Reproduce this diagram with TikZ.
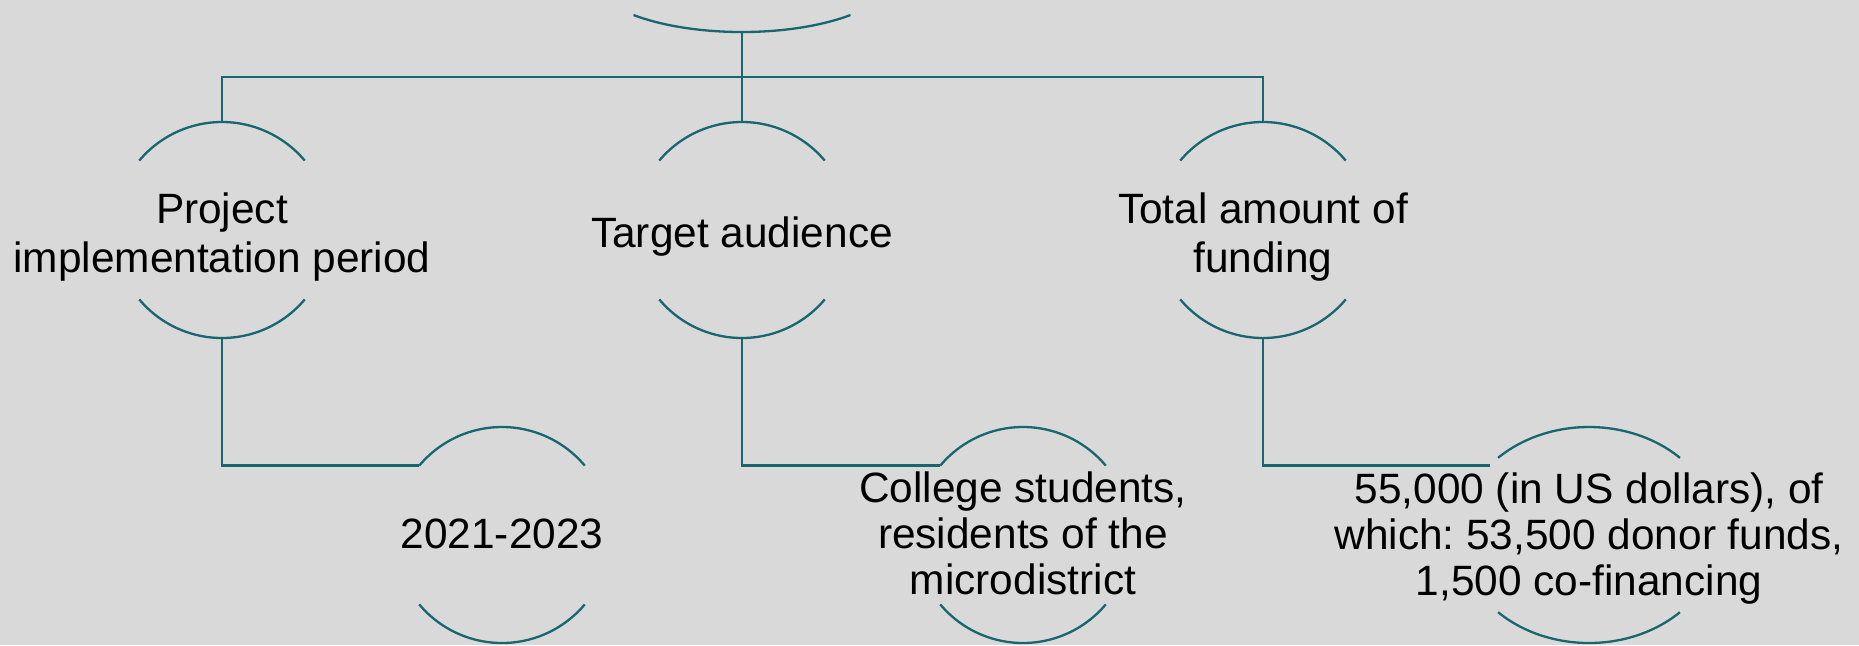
\documentclass[tikz,border=0pt]{standalone}
\usepackage{fontspec}
\setmainfont{Liberation Sans}
\usetikzlibrary{shapes.geometric}
\frenchspacing
\definecolor{bg}{HTML}{D9D9D9}
\definecolor{teal}{HTML}{176670}
\tikzset{
  ln/.style={draw=teal, line width=1.15pt},
  ring/.style={circle, draw=none, inner sep=0pt, outer sep=0pt, minimum size=108pt},
  oval/.style={ellipse, draw=none, inner sep=0pt, outer sep=0pt},
  lbl/.style={align=center, inner sep=0pt, text=black, font=\fontsize{21.2pt}{24.65pt}\selectfont},
  lblt/.style={align=center, inner sep=0pt, text=black, font=\fontsize{21.2pt}{23pt}\selectfont},
}
\begin{document}
\begin{tikzpicture}[x=0.5pt, y=-0.5pt]
\useasboundingbox (0,0) rectangle (1859,645);
\fill[bg] (0,0) rectangle (1859,645);

% shapes
\node[oval, minimum width=153.4pt, minimum height=58pt] (root) at (742,-26) {};
\node[ring] (p1) at (222,230) {};
\node[ring] (p2) at (742,230) {};
\node[ring] (p3) at (1263,230) {};
\node[ring] (q1) at (502,535) {};
\node[ring] (q2) at (1023,535) {};
\node[oval, minimum width=130pt, minimum height=108pt] (q3) at (1589,535) {};
\coordinate (bus) at (742,77);

% arcs
\draw[ln] ([shift={(225:76.7pt and 29pt)}]root.center) arc[start angle=225, end angle=315, x radius=76.7pt, y radius=29pt];
\foreach \n in {p1,p2,p3,q1,q2}{
  \draw[ln] (\n.140) arc[start angle=140, end angle=40, radius=54pt];
  \draw[ln] (\n.220) arc[start angle=220, end angle=320, radius=54pt];
}
\draw[ln] ([shift={(134.4:65pt and 54pt)}]q3.center) arc[start angle=134.4, end angle=45.6, x radius=65pt, y radius=54pt];
\draw[ln] ([shift={(225.6:65pt and 54pt)}]q3.center) arc[start angle=225.6, end angle=314.4, x radius=65pt, y radius=54pt];

% connectors
\draw[ln] (root.south) -- (p2.north);
\draw[ln] (p1.north) |- (p3.north |- bus) -- (p3.north);
\draw[ln] (p1.south) |- (q1.140);
\draw[ln] (p2.south) |- (q2.140);
\draw[ln] (p3.south) |- (q3.145.4);

% texts
\node[lbl] (t1) at (222,237) {Project\\implementation period};
\node[lbl] (t2) at (742,236.5) {Target audience};
\node[lbl] (t3) at (1263,237) {Total amount of\\funding};
\node[lbl] (u1) at (502,533.5) {2021-2023};
\node[lblt] (u2) at (1023,533.5) {College students,\\residents of the\\microdistrict};
\node[lblt] (u3) at (1589,538.5) {55,000 (in US dollars), of\\which: 53,500 donor funds,\\1,500 co-financing};
\end{tikzpicture}
\end{document}
